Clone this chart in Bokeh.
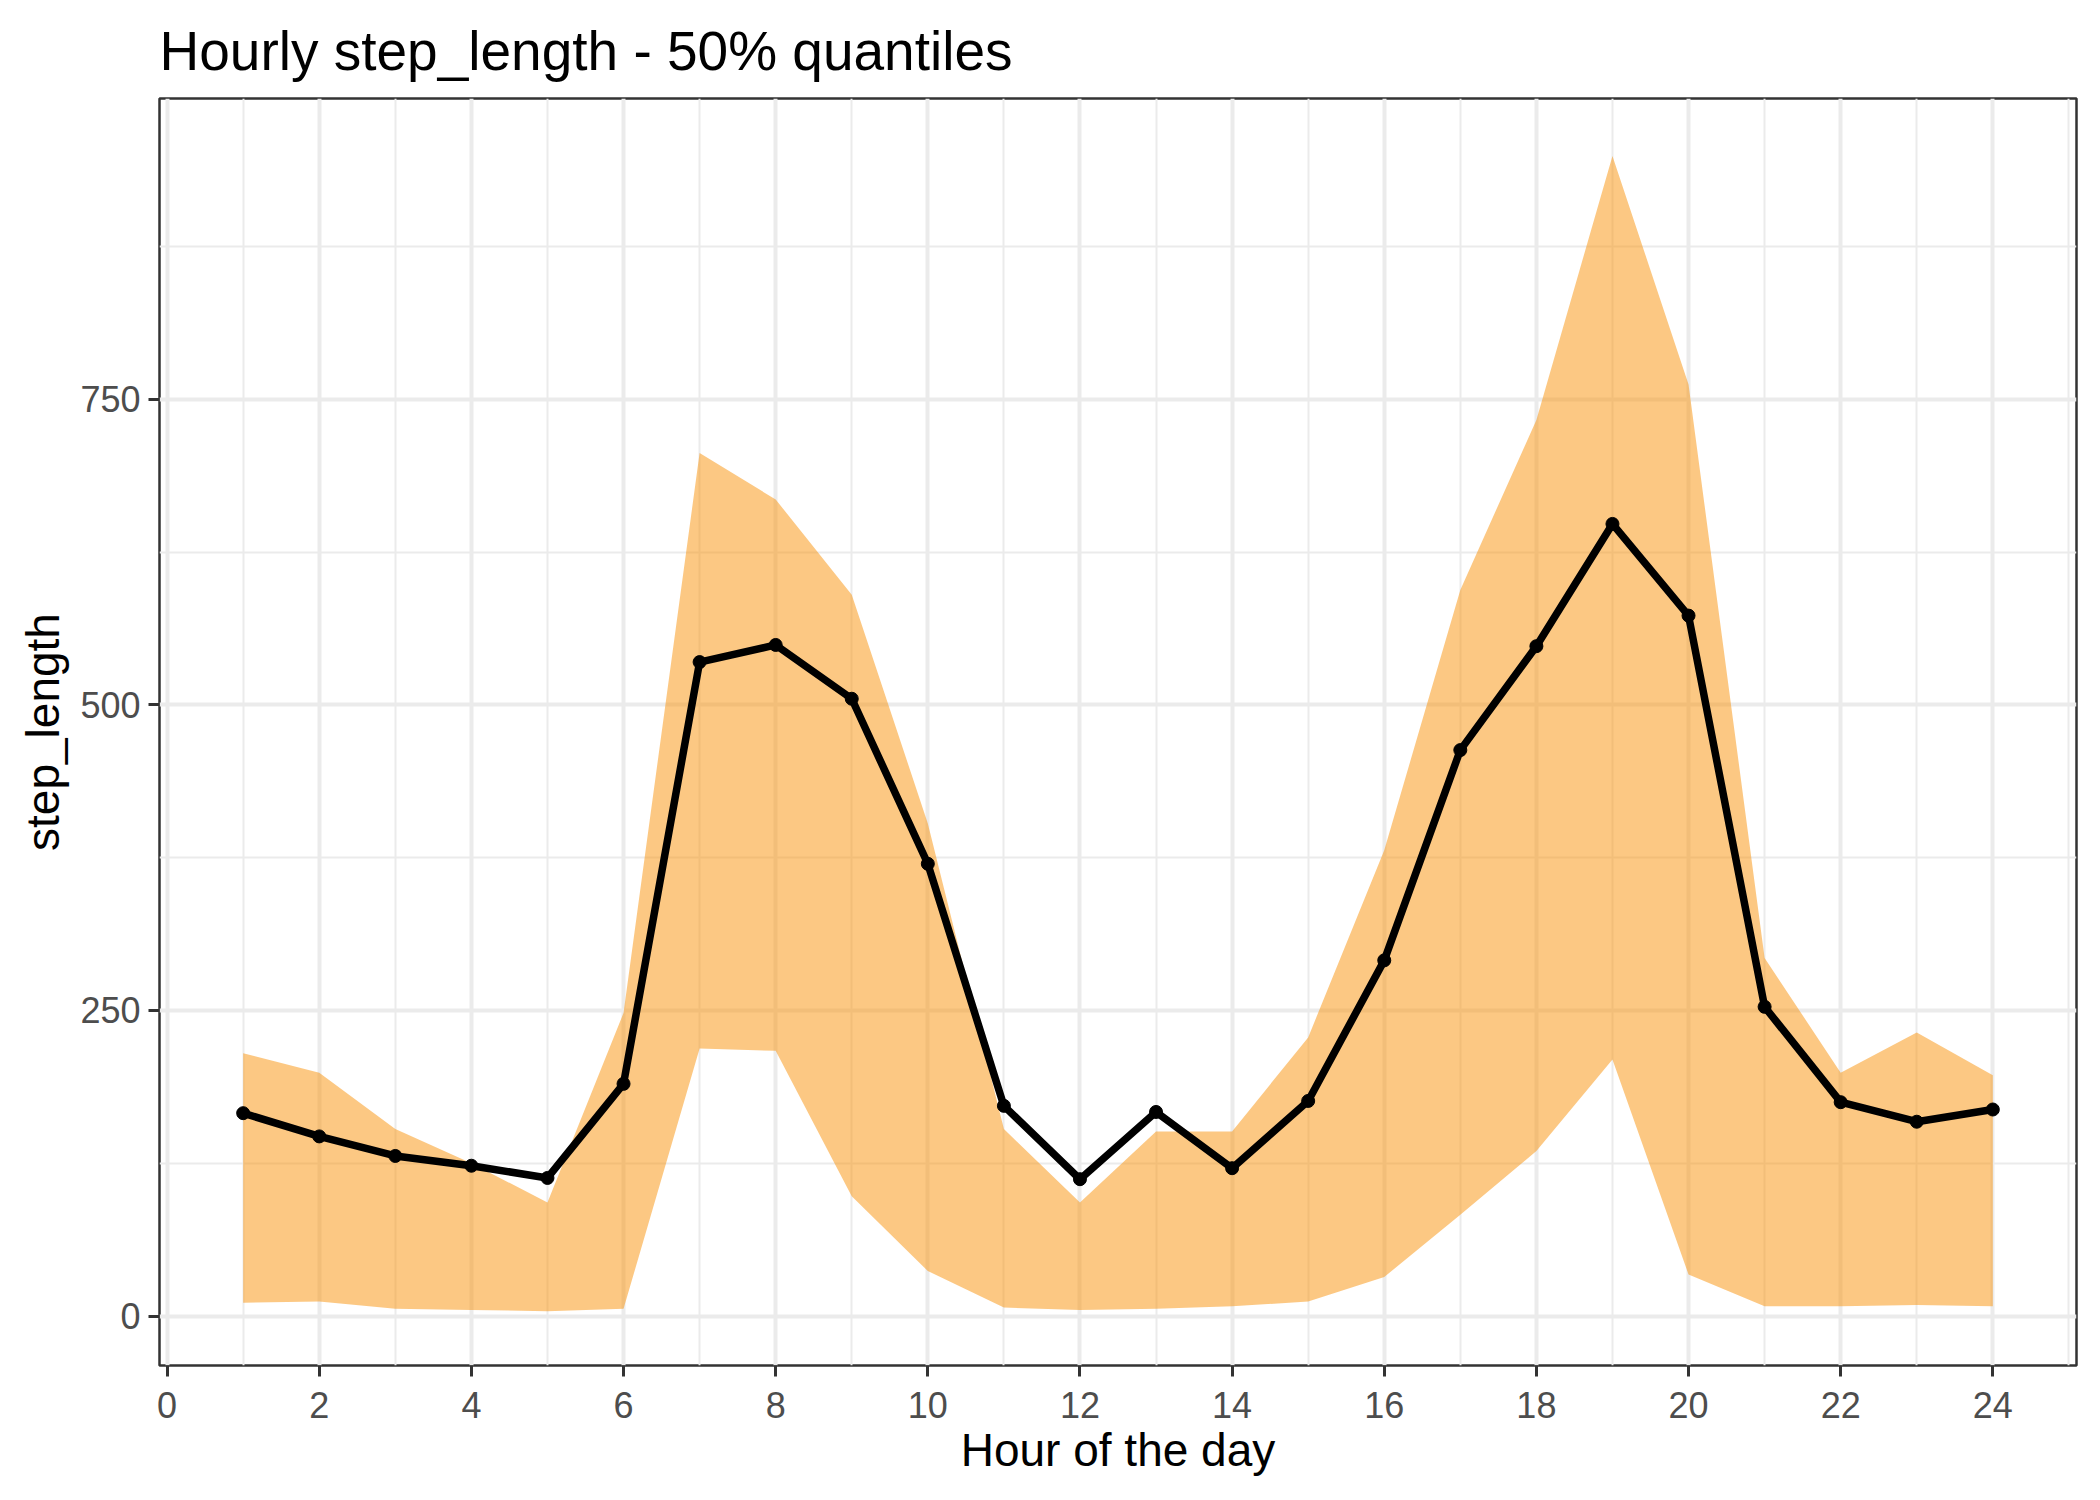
# Hourly step length with 50% quantile band

from bokeh.plotting import figure
from bokeh.models import Range1d, FixedTicker
from bokeh.embed import file_html
from bokeh.resources import INLINE

hours = list(range(1, 25))
median = [166, 147, 131, 123, 113, 190, 535, 549, 505, 370, 172, 112,
          167, 121, 176, 291, 463, 548, 648, 573, 253, 175, 159, 169]
upper = [215, 199, 153, 125, 93, 248, 706, 668, 590, 403, 153, 93,
         151, 151, 228, 381, 594, 733, 949, 762, 293, 199, 232, 197]
lower = [11, 12, 6, 5, 4, 6, 219, 217, 98, 37, 7, 5,
         6, 8, 12, 32, 83, 135, 210, 34, 8, 8, 9, 8]

x_ticks = list(range(0, 25, 2))
x_minor = list(range(1, 26, 2))
y_ticks = [0, 250, 500, 750]
y_minor = [125, 375, 625, 875]

FONT = "Liberation Sans"

p = figure(width=2080, height=1480, output_backend="svg", toolbar_location=None,
           x_range=Range1d(-0.1, 25.1), y_range=Range1d(-40.4, 996),
           title="Hourly step_length - 50% quantiles",
           min_border_left=159, min_border_right=4, min_border_top=96, min_border_bottom=115)

p.background_fill_color = "white"
p.border_fill_color = "white"
p.outline_line_color = "#333333"
p.outline_line_width = 2.5

p.title.text_font = FONT
p.title.text_font_size = "55px"
p.title.text_font_style = "normal"
p.title.text_color = "black"
p.title.align = "left"
p.title.standoff = 34

p.xaxis.ticker = FixedTicker(ticks=x_ticks, minor_ticks=x_minor)
p.yaxis.ticker = FixedTicker(ticks=y_ticks, minor_ticks=y_minor)
p.xaxis.axis_label = "Hour of the day"
p.yaxis.axis_label = "step_length"

for ax in (p.xaxis, p.yaxis):
    ax.axis_line_color = None
    ax.major_tick_line_color = "#333333"
    ax.major_tick_line_width = 3
    ax.major_tick_out = 11
    ax.major_tick_in = 0
    ax.minor_tick_line_color = None
    ax.major_label_text_font = FONT
    ax.major_label_text_font_size = "36px"
    ax.major_label_text_color = "#4D4D4D"
    ax.axis_label_text_font = FONT
    ax.axis_label_text_font_size = "46px"
    ax.axis_label_text_font_style = "normal"
    ax.axis_label_text_color = "black"

p.xaxis.major_label_standoff = 15
p.yaxis.major_label_standoff = 8
p.xaxis.axis_label_standoff = 3
p.yaxis.axis_label_standoff = 8

for g in (p.xgrid, p.ygrid):
    g.grid_line_color = "#EBEBEB"
    g.grid_line_width = 4
    g.minor_grid_line_color = "#EBEBEB"
    g.minor_grid_line_width = 2

# 50% quantile band
p.varea(x=hours, y1=lower, y2=upper, fill_color="#FA9107", fill_alpha=0.5)

# median
p.line(hours, median, line_color="black", line_width=7.5)
p.scatter(hours, median, size=13, fill_color="black", line_color="black")

open("out.html", "w").write(file_html(p, INLINE))
